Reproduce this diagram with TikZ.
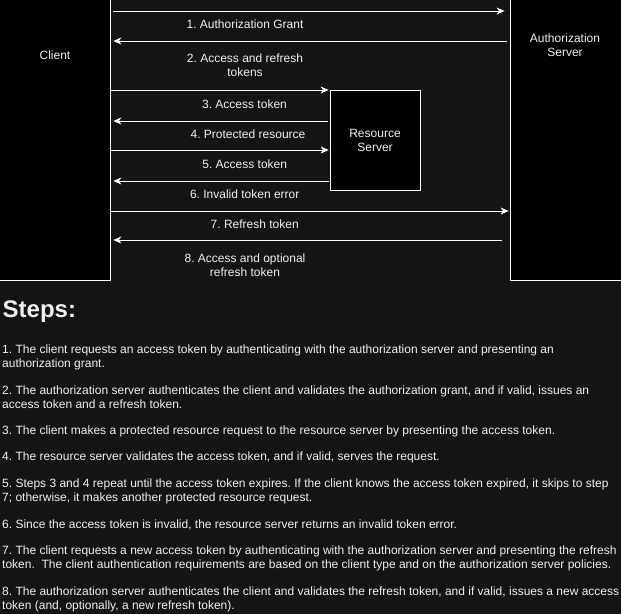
\documentclass[tikz,border=0pt]{standalone}
\usepackage{fontspec}
\setmainfont{Liberation Sans}
\usepackage{xcolor}
\usetikzlibrary{arrows.meta, positioning, calc}
\definecolor{canvas}{RGB}{20, 20, 20}
\definecolor{ink}{RGB}{240, 240, 240}
\frenchspacing

\begin{document}
\begin{tikzpicture}[
    x=1pt, y=-1pt,
    >={Stealth[length=8pt, width=7pt, inset=2.5pt]},
    entity/.style={rectangle, draw=white, fill=black, line width=0.8pt, inner sep=0pt, font=\fontsize{12}{14}\selectfont, text=ink, align=center},
    msg/.style={->, white, line width=0.8pt},
    msglabel/.style={font=\fontsize{12}{14}\selectfont, text=ink, align=center, inner sep=0pt},
    steptext/.style={anchor=north west, font=\fontsize{12}{14}\selectfont, text=ink, align=left, inner sep=0pt},
    heading/.style={anchor=base west, font=\fontsize{24}{28}\selectfont\bfseries, text=ink, inner sep=0pt}
  ]

  % Canvas
  \fill[canvas] (0,0) rectangle (621,614);
  \useasboundingbox (0,0) rectangle (621,614);

  % Parties
  \node[entity, minimum width=111pt, minimum height=281pt] (client) at (54.5,139.5) {};
  \node[entity, minimum width=112pt, minimum height=281pt] (auth) at (566,139.5) {};
  \node[entity, minimum width=90pt, minimum height=100pt] (resource) at (375,140) {Resource\\Server};
  \node[msglabel] (clientname) at (55,55) {Client};
  \node[msglabel] (authname) at (565,45) {Authorization\\Server};

  % Messages
  \draw[msg, shorten <=3pt, shorten >=5pt] (client.east |- 0,11) -- (auth.west |- 0,11);
  \draw[msg, shorten <=3pt, shorten >=3pt] (auth.west |- 0,41) -- (client.east |- 0,41);
  \draw[msg, shorten >=1pt] (client.east |- 0,90) -- (resource.west |- 0,90);
  \draw[msg, shorten <=2pt, shorten >=3pt] (resource.west |- 0,121) -- (client.east |- 0,121);
  \draw[msg, shorten >=1pt] (client.east |- 0,150) -- (resource.west |- 0,150);
  \draw[msg, shorten <=1pt, shorten >=3pt] (resource.west |- 0,181) -- (client.east |- 0,181);
  \draw[msg, shorten >=1pt] (client.east |- 0,211) -- (auth.west |- 0,211);
  \draw[msg, shorten <=8pt, shorten >=3pt] (auth.west |- 0,240) -- (client.east |- 0,240);

  % Message labels
  \node[msglabel] (grant) at (245,24) {1. Authorization Grant};
  \node[msglabel] (tokens) at (245,65) {2. Access and refresh\\tokens};
  \node[msglabel] (access1) at (244.5,104) {3. Access token};
  \node[msglabel] (protected) at (248,134) {4. Protected resource};
  \node[msglabel] (access2) at (244.7,164) {5. Access token};
  \node[msglabel] (invalid) at (244.7,194) {6. Invalid token error};
  \node[msglabel] (refresh) at (254.7,224) {7. Refresh token};
  \node[msglabel] (optional) at (245,265) {8. Access and optional\\refresh token};

  % Steps
  \node[heading] (steps) at (2.5,317.7) {Steps:};
  \node[steptext] (step1) at (2,344.2) {1. The client requests an access token by authenticating with the authorization server and presenting an\\authorization grant.};
  \node[steptext] (step2) at (2,385.2) {2. The authorization server authenticates the client and validates the authorization grant, and if valid, issues an\\access token and a refresh token.};
  \node[steptext] (step3) at (2,425.2) {3. The client makes a protected resource request to the resource server by presenting the access token.};
  \node[steptext] (step4) at (2,451.2) {4. The resource server validates the access token, and if valid, serves the request.};
  \node[steptext] (step5) at (2,478.2) {5. Steps 3 and 4 repeat until the access token expires. If the client knows the access token expired, it skips to step\\7; otherwise, it makes another protected resource request.};
  \node[steptext] (step6) at (2,519.2) {6. Since the access token is invalid, the resource server returns an invalid token error.};
  \node[steptext] (step7) at (2,545.2) {7. The client requests a new access token by authenticating with the authorization server and presenting the refresh\\token.\ \ The client authentication requirements are based on the client type and on the authorization server policies.};
  \node[steptext] (step8) at (2,586.2) {8. The authorization server authenticates the client and validates the refresh token, and if valid, issues a new access\\token (and, optionally, a new refresh token).};

\end{tikzpicture}
\end{document}
